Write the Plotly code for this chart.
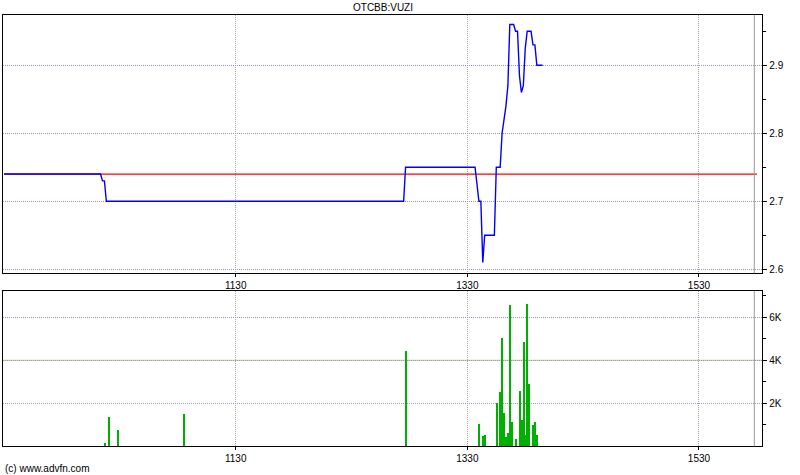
import plotly.graph_objects as go

# times are minutes since midnight
price_time = [570, 620, 621, 622, 623, 777, 778, 814, 816, 817, 818, 819, 824, 825, 827,
              828, 829, 830, 831, 832, 834, 835, 836, 837, 838, 839, 840, 841, 843, 844,
              845, 846, 849]
price = [2.74, 2.74, 2.73, 2.73, 2.70, 2.70, 2.75, 2.75, 2.70, 2.70, 2.61, 2.65, 2.65, 2.75, 2.75,
         2.80, 2.82, 2.84, 2.87, 2.96, 2.96, 2.95, 2.95, 2.885, 2.86, 2.87, 2.925, 2.95, 2.95, 2.93,
         2.93, 2.90, 2.90]

prev_close = 2.74
session = [570, 960]

vol_time = [622, 624, 629, 663, 778, 816, 818, 819, 825, 827, 828, 829, 830, 831, 832, 833,
            835, 837, 838, 839, 840, 841, 842, 844, 845, 846]
volume = [150, 1350, 760, 1500, 4430, 1040, 480, 530, 2030, 2530, 5050, 1550, 430, 620, 6570, 1130,
          340, 2570, 1220, 4850, 530, 6620, 2900, 990, 1130, 530]

x_tickvals = [690, 810, 930]
x_ticktext = ["1130", "1330", "1530"]
price_ticks = [2.6, 2.7, 2.8, 2.9]
vol_tickvals = [2000, 4000, 6000]
vol_ticktext = ["2K", "4K", "6K"]

FONT = "Liberation Sans, Arial, sans-serif"

fig = go.Figure()
fig.add_trace(go.Scatter(x=session, y=[prev_close, prev_close], mode="lines",
                         line=dict(color="#ff0000", width=1.3), xaxis="x", yaxis="y",
                         hoverinfo="skip"))
fig.add_trace(go.Scatter(x=price_time, y=price, mode="lines",
                         line=dict(color="#0000ff", width=1.4), xaxis="x", yaxis="y"))
fig.add_trace(go.Bar(x=vol_time, y=volume, width=0.55,
                     marker=dict(color="#00b000", line=dict(width=0)),
                     xaxis="x2", yaxis="y2"))

W, H = 800, 475
xr = [569.3, 962.8]
xdom = [2.7 / W, 762.3 / W]
top_dom = [1 - 273.3 / H, 1 - 15 / H]
bot_dom = [1 - 446.3 / H, 1 - 291 / H]

axis_common = dict(showline=True, linecolor="#000000", linewidth=1, mirror=True,
                   zeroline=False)

xcommon = dict(range=xr, domain=xdom, tickmode="array", tickvals=x_tickvals,
               ticktext=x_ticktext, showgrid=True, gridcolor="#a8a890", griddash="1px,1px",
               gridwidth=1, ticks="outside", ticklen=3, tickcolor="#000",
               tickfont=dict(family=FONT, size=10, color="#000"), **axis_common)

fig.update_layout(
    width=W, height=H,
    margin=dict(l=0, r=0, t=0, b=0),
    paper_bgcolor="#ffffff", plot_bgcolor="#ffffff",
    showlegend=False,
    bargap=0,
    xaxis=dict(anchor="y", **xcommon),
    xaxis2=dict(anchor="y2", **xcommon),
    yaxis=dict(domain=top_dom, range=[2.594, 2.974], side="right", anchor="x",
               tickmode="array", tickvals=price_ticks, ticktext=["2.6", "2.7", "2.8", "2.9"],
               showgrid=True, gridcolor="#9898b8", griddash="1px,1px", gridwidth=1,
               ticks="outside", ticklen=4, tickcolor="#000",
               minor=dict(tickmode="array", tickvals=[2.65, 2.75, 2.85, 2.95],
                          ticks="outside", ticklen=3, tickcolor="#000", showgrid=False),
               tickfont=dict(family=FONT, size=10, color="#000"), **axis_common),
    yaxis2=dict(domain=bot_dom, range=[0, 7220], side="right", anchor="x2",
                tickmode="array", tickvals=vol_tickvals, ticktext=vol_ticktext,
                showgrid=True, gridcolor="#9898b8", griddash="1px,1px", gridwidth=1,
                ticks="outside", ticklen=4, tickcolor="#000",
                minor=dict(tickmode="array", tickvals=[1000, 3000, 5000, 7000],
                           ticks="outside", ticklen=3, tickcolor="#000", showgrid=False),
                tickfont=dict(family=FONT, size=10, color="#000"), **axis_common),
    shapes=[
        dict(type="line", xref="x2", yref="y2", x0=xr[0], x1=xr[1], y0=4000, y1=4000,
             line=dict(color="#c8c88c", width=1), layer="below"),
        dict(type="line", xref="paper", yref="paper", x0=754.3 / W, x1=754.3 / W,
             y0=top_dom[0], y1=top_dom[1], line=dict(color="#999999", width=1)),
        dict(type="line", xref="paper", yref="paper", x0=754.3 / W, x1=754.3 / W,
             y0=bot_dom[0], y1=bot_dom[1], line=dict(color="#999999", width=1)),
    ],
    annotations=[
        dict(text="OTCBB:VUZI", xref="paper", yref="paper", x=(xdom[0] + xdom[1]) / 2,
             y=1 - 8 / H, showarrow=False, xanchor="center", yanchor="middle",
             font=dict(family=FONT, size=10, color="#000")),
        dict(text="(c) www.advfn.com", xref="paper", yref="paper", x=3 / W, y=1 - 468 / H,
             showarrow=False, xanchor="left", yanchor="middle",
             font=dict(family=FONT, size=10, color="#000")),
    ],
)

fig.write_html("out.html", config={"displayModeBar": False},
               post_script="document.body.style.margin='0';document.body.style.overflow='hidden';")
